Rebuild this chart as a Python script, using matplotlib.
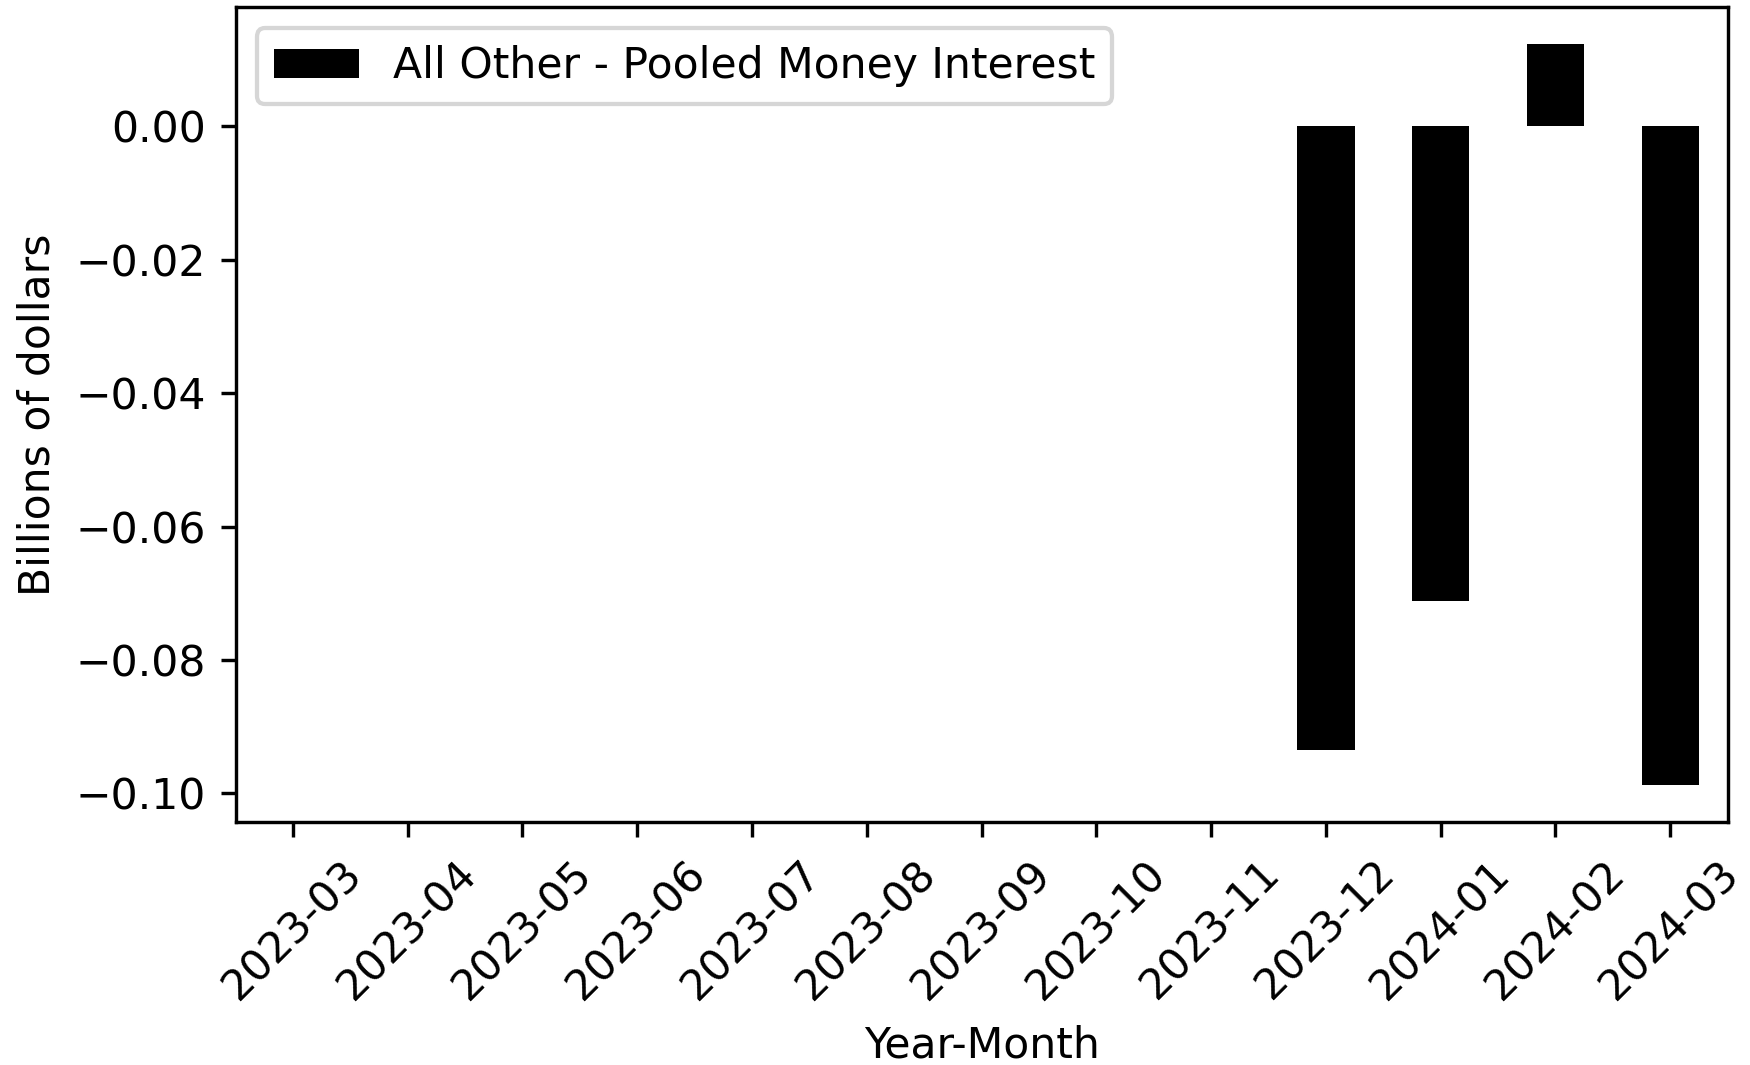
import matplotlib
matplotlib.use("Agg")
import matplotlib.pyplot as plt

months = ["2023-03", "2023-04", "2023-05", "2023-06", "2023-07", "2023-08",
          "2023-09", "2023-10", "2023-11", "2023-12", "2024-01", "2024-02", "2024-03"]
interest = [0, 0, 0, 0, 0, 0, 0, 0, 0, -0.0935, -0.0711, 0.0123, -0.0988]

dpi = 306
fig, ax = plt.subplots(figsize=(1750 / dpi, 1065 / dpi), dpi=dpi)
x = range(len(months))
ax.bar(x, interest, width=0.5, color="black", label="All Other - Pooled Money Interest")
ax.set_xticks(list(x))
ax.set_xticklabels(months, rotation=45)
ax.set_xlim(-0.5, len(months) - 0.5)
ax.set_xlabel("Year-Month")
ax.set_ylabel("Billions of dollars")
ax.legend(loc="upper left")
fig.subplots_adjust(left=0.1346, right=0.9872, top=0.9934, bottom=0.2277)
fig.savefig("out.png", dpi=dpi)
